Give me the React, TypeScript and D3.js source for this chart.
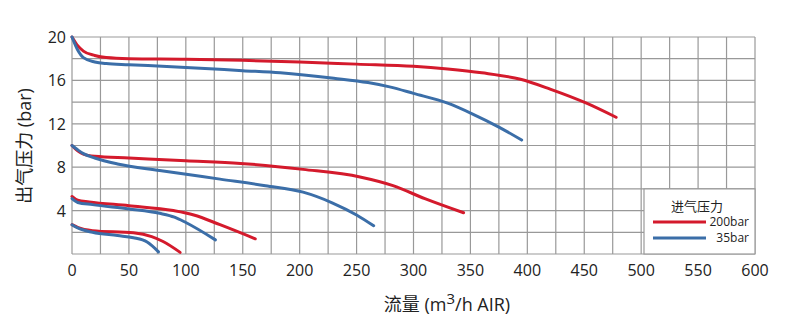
import React, { useRef, useEffect } from 'react';
import * as d3 from 'd3';

type Pt = [number, number];

// 200bar inlet curves (red)
const red20: Pt[] = [[0, 20], [5, 19.2], [10, 18.7], [20, 18.3], [30, 18.1], [50, 18.0], [100, 17.95], [150, 17.85], [200, 17.7], [250, 17.5], [300, 17.3], [330, 17.05], [360, 16.7], [394, 16.1], [420, 15.2], [452, 13.9], [478, 12.6]];
const red10: Pt[] = [[0, 10], [5, 9.5], [10, 9.2], [20, 9.0], [50, 8.85], [100, 8.6], [148, 8.35], [203, 7.8], [253, 7.1], [282, 6.3], [310, 5.1], [344, 3.8]];
const red5: Pt[] = [[0, 5.3], [5, 4.95], [15, 4.8], [50, 4.45], [89, 4.0], [107, 3.6], [130, 2.7], [161, 1.4]];
const red2: Pt[] = [[0, 2.7], [5, 2.45], [18, 2.15], [54, 1.95], [70, 1.6], [80, 1.15], [95, 0.15]];

// 35bar inlet curves (blue)
const blue20: Pt[] = [[0, 20], [5, 18.8], [10, 18.1], [20, 17.7], [30, 17.55], [50, 17.45], [100, 17.2], [150, 16.9], [183, 16.7], [230, 16.2], [260, 15.8], [279, 15.4], [300, 14.8], [330, 13.9], [352, 12.9], [375, 11.7], [395, 10.5]];
const blue10: Pt[] = [[0, 10], [5, 9.6], [10, 9.25], [20, 8.85], [40, 8.3], [77, 7.7], [130, 6.9], [170, 6.3], [203, 5.7], [229, 4.7], [250, 3.6], [265, 2.6]];
const blue5: Pt[] = [[0, 5.1], [5, 4.75], [18, 4.55], [50, 4.15], [77, 3.75], [90, 3.4], [100, 2.9], [126, 1.3]];
const blue2: Pt[] = [[0, 2.7], [5, 2.4], [18, 2.0], [40, 1.7], [54, 1.5], [66, 1.1], [76, 0.2]];

const xTicks = [0, 50, 100, 150, 200, 250, 300, 350, 400, 450, 500, 550, 600];
const yTicks = [4, 8, 12, 16, 20];

const RED = '#d41a2c';
const BLUE = '#3b6ea8';
const FONT = '"Open Sans", "Noto Sans CJK SC", sans-serif';

export default function App() {
  const ref = useRef<SVGSVGElement>(null);

  useEffect(() => {
    const svg = d3.select(ref.current);
    svg.selectAll('*').remove();

    const left = 72, right = 755, top = 37, bottom = 254;
    const x = d3.scaleLinear().domain([0, 600]).range([left, right]);
    const y = d3.scaleLinear().domain([0, 20]).range([bottom, top]);

    const g = svg.append('g');

    // grid
    g.selectAll('.vg')
      .data(d3.range(0, 601, 25))
      .enter()
      .append('line')
      .attr('x1', (d) => x(d)).attr('x2', (d) => x(d))
      .attr('y1', top).attr('y2', bottom)
      .attr('stroke', '#999').attr('stroke-width', 1.2);
    g.selectAll('.hg')
      .data(d3.range(0, 21, 2))
      .enter()
      .append('line')
      .attr('x1', left).attr('x2', right)
      .attr('y1', (d) => y(d)).attr('y2', (d) => y(d))
      .attr('stroke', '#999').attr('stroke-width', 1.2);

    // tick labels
    g.selectAll('.xt')
      .data(xTicks)
      .enter()
      .append('text')
      .attr('x', (d) => x(d)).attr('y', 276)
      .attr('text-anchor', 'middle')
      .attr('font-family', FONT).attr('font-size', 16).attr('fill', '#222')
      .text((d) => d);
    g.selectAll('.yt')
      .data(yTicks)
      .enter()
      .append('text')
      .attr('x', 66).attr('y', (d) => y(d) + 6)
      .attr('text-anchor', 'end')
      .attr('font-family', FONT).attr('font-size', 16).attr('fill', '#222')
      .text((d) => d);

    // axis titles
    svg.append('text')
      .attr('transform', 'translate(31,146) rotate(-90)')
      .attr('text-anchor', 'middle')
      .attr('font-family', FONT).attr('font-size', 18).attr('fill', '#222')
      .text('出气压力 (bar)');
    const xt = svg.append('text')
      .attr('x', 447).attr('y', 311)
      .attr('text-anchor', 'middle')
      .attr('font-family', FONT).attr('font-size', 18).attr('fill', '#222');
    xt.append('tspan').text('流量 (m');
    xt.append('tspan').attr('dy', -7).attr('font-size', 15).text('3');
    xt.append('tspan').attr('dy', 7).text('/h AIR)');

    // curves
    const line = d3.line<Pt>()
      .x((d) => x(d[0]))
      .y((d) => y(d[1]))
      .curve(d3.curveMonotoneX);
    [red20, red10, red5, red2].forEach((s) => {
      g.append('path').attr('d', line(s)).attr('fill', 'none')
        .attr('stroke', RED).attr('stroke-width', 3).attr('stroke-linecap', 'round');
    });
    [blue20, blue10, blue5, blue2].forEach((s) => {
      g.append('path').attr('d', line(s)).attr('fill', 'none')
        .attr('stroke', BLUE).attr('stroke-width', 3).attr('stroke-linecap', 'round');
    });

    // legend
    const lg = svg.append('g');
    lg.append('rect')
      .attr('x', 644).attr('y', y(6))
      .attr('width', right - 644).attr('height', bottom - y(6))
      .attr('fill', '#fff').attr('stroke', '#999').attr('stroke-width', 1.2);
    lg.append('text')
      .attr('x', 697).attr('y', 211)
      .attr('text-anchor', 'middle')
      .attr('font-family', FONT).attr('font-size', 13).attr('fill', '#222')
      .text('进气压力');
    const items = [{ c: RED, t: '200bar', yy: 222 }, { c: BLUE, t: '35bar', yy: 238 }];
    items.forEach((it) => {
      lg.append('line')
        .attr('x1', 653).attr('x2', 706).attr('y1', it.yy).attr('y2', it.yy)
        .attr('stroke', it.c).attr('stroke-width', 3);
      lg.append('text')
        .attr('x', 749).attr('y', it.yy + 4)
        .attr('text-anchor', 'end')
        .attr('font-family', FONT).attr('font-size', 12).attr('fill', '#222')
        .text(it.t);
    });
  }, []);

  return (
    <svg
      ref={ref}
      width={788}
      height={331}
      style={{ position: 'absolute', left: 0, top: 0, background: '#fff' }}
    ></svg>
  );
}
